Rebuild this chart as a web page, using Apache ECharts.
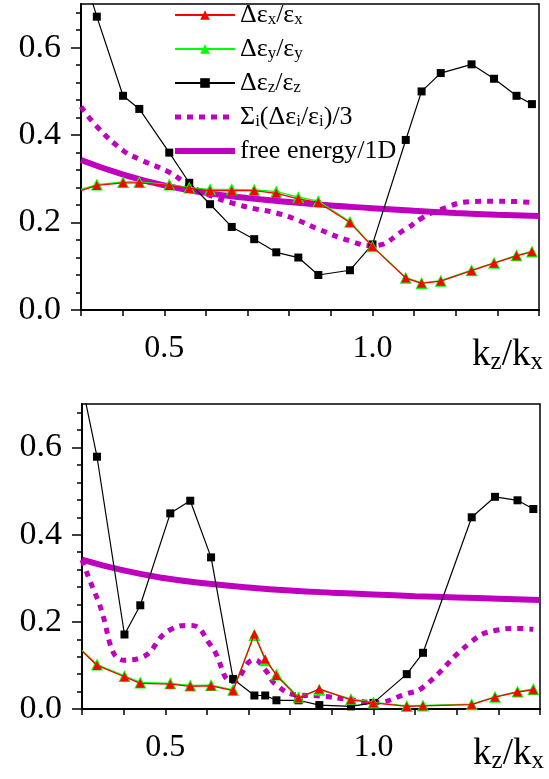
<!DOCTYPE html>
<html>
<head>
<meta charset="utf-8">
<script src="https://cdn.jsdelivr.net/npm/echarts@6/dist/echarts.min.js"></script>
<style>
html, body { margin: 0; padding: 0; background: #fff; }
#main { width: 549px; height: 779px; }
</style>
</head>
<body>
<div id="main"></div>
<script>
// k_z/k_x positions of the computed points (upper and lower panel)
var kTop = [0.3, 0.338, 0.401, 0.440, 0.512, 0.560, 0.610, 0.662, 0.716, 0.769, 0.822, 0.870, 0.946, 1.0, 1.080, 1.118, 1.164, 1.238, 1.292, 1.346, 1.383];
var kBot = [0.3, 0.336, 0.402, 0.440, 0.512, 0.560, 0.610, 0.663, 0.714, 0.740, 0.767, 0.820, 0.870, 0.946, 1.0, 1.080, 1.119, 1.236, 1.292, 1.346, 1.384];
var kFree = [0.3, 0.4, 0.5, 0.6, 0.7, 0.8, 0.9, 1.0, 1.1, 1.2, 1.3, 1.4];

// upper panel
var exTop = [0.273, 0.285, 0.291, 0.291, 0.285, 0.278, 0.273, 0.273, 0.273, 0.267, 0.254, 0.246, 0.200, 0.145, 0.073, 0.061, 0.066, 0.090, 0.107, 0.124, 0.133];
var eyTop = [0.276, 0.287, 0.293, 0.293, 0.287, 0.280, 0.276, 0.276, 0.275, 0.271, 0.258, 0.249, 0.202, 0.146, 0.074, 0.062, 0.067, 0.091, 0.108, 0.125, 0.134];
var ezTop = [0.79, 0.671, 0.490, 0.460, 0.360, 0.291, 0.242, 0.190, 0.162, 0.132, 0.120, 0.080, 0.091, 0.150, 0.389, 0.500, 0.542, 0.562, 0.529, 0.490, 0.471];
var sumTop = [0.465, 0.420, 0.365, 0.345, 0.315, 0.285, 0.262, 0.245, 0.232, 0.222, 0.205, 0.185, 0.158, 0.147, 0.185, 0.210, 0.230, 0.248, 0.249, 0.248, 0.246];
var freeTop = [0.343, 0.310, 0.285, 0.268, 0.256, 0.247, 0.239, 0.233, 0.227, 0.222, 0.218, 0.215];

// lower panel
var exBot = [0.133, 0.100, 0.074, 0.059, 0.057, 0.052, 0.053, 0.042, 0.172, 0.115, 0.077, 0.025, 0.046, 0.021, 0.014, 0.006, 0.007, 0.010, 0.027, 0.039, 0.044];
var eyBot = [0.135, 0.102, 0.076, 0.061, 0.059, 0.054, 0.055, 0.044, 0.170, 0.112, 0.079, 0.027, 0.044, 0.023, 0.015, 0.007, 0.008, 0.011, 0.028, 0.040, 0.046];
var ezBot = [0.745, 0.579, 0.171, 0.238, 0.449, 0.478, 0.348, 0.069, 0.031, 0.031, 0.020, 0.020, 0.009, 0.006, 0.014, 0.080, 0.129, 0.440, 0.487, 0.479, 0.459];
var sumBot = [0.342, 0.255, 0.112, 0.117, 0.182, 0.192, 0.145, 0.063, 0.113, 0.090, 0.055, 0.032, 0.030, 0.021, 0.015, 0.035, 0.050, 0.155, 0.180, 0.185, 0.183];
var freeBot = [0.343, 0.318, 0.300, 0.288, 0.279, 0.272, 0.267, 0.263, 0.259, 0.256, 0.253, 0.250];

// ticks and labels
var xTicks = [0.3, 0.4, 0.5, 0.6, 0.7, 0.8, 0.9, 1.0, 1.1, 1.2, 1.3, 1.4];
var xLabels = [0.5, 1.0];
var yMajor = [0, 0.2, 0.4, 0.6];
var yMinor = [0.04, 0.08, 0.12, 0.16, 0.24, 0.28, 0.32, 0.36, 0.44, 0.48, 0.52, 0.56, 0.64, 0.68];

var names = ['Δεx/εx', 'Δεy/εy', 'Δεz/εz', 'Σi(Δεi/εi)/3', 'free energy/1D'];
var richNames = {
    'Δεx/εx': '{t|Δε}{s|x}{t|/ε}{s|x}',
    'Δεy/εy': '{t|Δε}{s|y}{t|/ε}{s|y}',
    'Δεz/εz': '{t|Δε}{s|z}{t|/ε}{s|z}',
    'Σi(Δεi/εi)/3': '{t|Σ}{s|i}{t|(Δε}{s|i}{t|/ε}{s|i}{t|)/3}',
    'free energy/1D': '{t|free energy/1D}'
};

var FONT = 'Liberation Serif';
var MAG = '#bf00bf';

var myChart = echarts.init(document.getElementById('main'));

function pairs(xs, ys, hideFirst)
{
    var out = [];
    for (var i = 0; i < xs.length; i++) {
        if (i == 0 && hideFirst) {
            out.push({ value: [xs[i], ys[i]], symbol: 'none' });
        } else {
            out.push([xs[i], ys[i]]);
        }
    }
    return out;
}

function makeX(g)
{
    return {
        type: 'value', gridIndex: g, min: 0.3, max: 1.4,
        axisLine: { show: true, onZero: false, lineStyle: { color: '#000', width: 2 } },
        axisTick: { show: true, inside: false, length: 6, customValues: xTicks, lineStyle: { color: '#000', width: 1.5 } },
        axisLabel: {
            customValues: xLabels, margin: 23, color: '#000', fontFamily: FONT, fontSize: 32,
            formatter: function (v) { return v.toFixed(1); }
        },
        splitLine: { show: false },
        name: '{a|k}{b|z}{a|/k}{b|x}',
        nameLocation: 'end',
        nameGap: 4,
        nameTextStyle: {
            align: 'right', verticalAlign: 'top', padding: [25, 0, 0, 0],
            rich: {
                a: { fontFamily: FONT, fontSize: 37, lineHeight: 40, color: '#000' },
                b: { fontFamily: FONT, fontSize: 25, lineHeight: 10, verticalAlign: 'bottom', color: '#000' }
            }
        }
    };
}

function makeY(g)
{
    return [{
        type: 'value', gridIndex: g, min: 0, max: 0.7, position: 'left',
        axisLine: { show: true, onZero: false, lineStyle: { color: '#000', width: 2 } },
        axisTick: { show: true, inside: false, length: 10, customValues: yMajor, lineStyle: { color: '#000', width: 1.5 } },
        axisLabel: {
            customValues: yMajor, margin: 20, color: '#000', fontFamily: FONT, fontSize: 34,
            formatter: function (v) { return v.toFixed(1); }
        },
        splitLine: { show: false }
    }, {
        type: 'value', gridIndex: g, min: 0, max: 0.7, position: 'left',
        axisLine: { show: false },
        axisTick: { show: true, inside: false, length: 5, customValues: yMinor, lineStyle: { color: '#000', width: 1.5 } },
        axisLabel: { show: false },
        splitLine: { show: false }
    }];
}

function makeSeries(g, k, ex, ey, ez, sum, free)
{
    return [
        {
            name: names[4], type: 'line', xAxisIndex: g, yAxisIndex: 2 * g, z: 2,
            data: pairs(kFree, free, false), smooth: true, showSymbol: false, symbol: 'none',
            lineStyle: { color: MAG, width: 6 }, itemStyle: { color: MAG }
        },
        {
            name: names[3], type: 'line', xAxisIndex: g, yAxisIndex: 2 * g, z: 3,
            data: pairs(k, sum, false), smooth: true, showSymbol: false, symbol: 'none',
            lineStyle: { color: MAG, width: 5, type: [6, 6] }, itemStyle: { color: MAG }
        },
        {
            name: names[2], type: 'line', xAxisIndex: g, yAxisIndex: 2 * g, z: 4,
            data: pairs(k, ez, true), symbol: 'rect', symbolSize: 8,
            lineStyle: { color: '#000', width: 1.2 }, itemStyle: { color: '#000' }
        },
        {
            name: names[1], type: 'line', xAxisIndex: g, yAxisIndex: 2 * g, z: 5,
            data: pairs(k, ey, true), symbol: 'triangle', symbolSize: 12,
            lineStyle: { color: '#00ff00', width: 1.3 }, itemStyle: { color: '#00ff00' }
        },
        {
            name: names[0], type: 'line', xAxisIndex: g, yAxisIndex: 2 * g, z: 6,
            data: pairs(k, ex, true), symbol: 'triangle', symbolSize: 9,
            lineStyle: { color: '#ff0000', width: 1.3 }, itemStyle: { color: '#ff0000' }
        }
    ];
}

var option = {
    animation: false,
    backgroundColor: '#fff',
    grid: [
        { left: 81, top: 4, width: 458, height: 306, show: true, borderColor: '#000', borderWidth: 1.5 },
        { left: 82, top: 404, width: 458, height: 305, show: true, borderColor: '#000', borderWidth: 1.5 }
    ],
    legend: {
        orient: 'vertical', left: 172, top: 2, padding: 0,
        itemWidth: 60, itemHeight: 12, itemGap: 8,
        data: [
            { name: names[0] },
            { name: names[1] },
            { name: names[2] },
            { name: names[3], itemStyle: { opacity: 0 }, lineStyle: { color: MAG, width: 5, type: [6, 6] } },
            { name: names[4], itemStyle: { opacity: 0 }, lineStyle: { color: MAG, width: 6 } }
        ],
        formatter: function (n) { return richNames[n]; },
        textStyle: {
            rich: {
                t: { fontFamily: FONT, fontSize: 26, lineHeight: 26, color: '#000' },
                s: { fontFamily: FONT, fontSize: 17, lineHeight: 8, verticalAlign: 'bottom', color: '#000' }
            }
        }
    },
    xAxis: [makeX(0), makeX(1)],
    yAxis: makeY(0).concat(makeY(1)),
    series: makeSeries(0, kTop, exTop, eyTop, ezTop, sumTop, freeTop)
        .concat(makeSeries(1, kBot, exBot, eyBot, ezBot, sumBot, freeBot))
};

myChart.setOption(option);
</script>
</body>
</html>
